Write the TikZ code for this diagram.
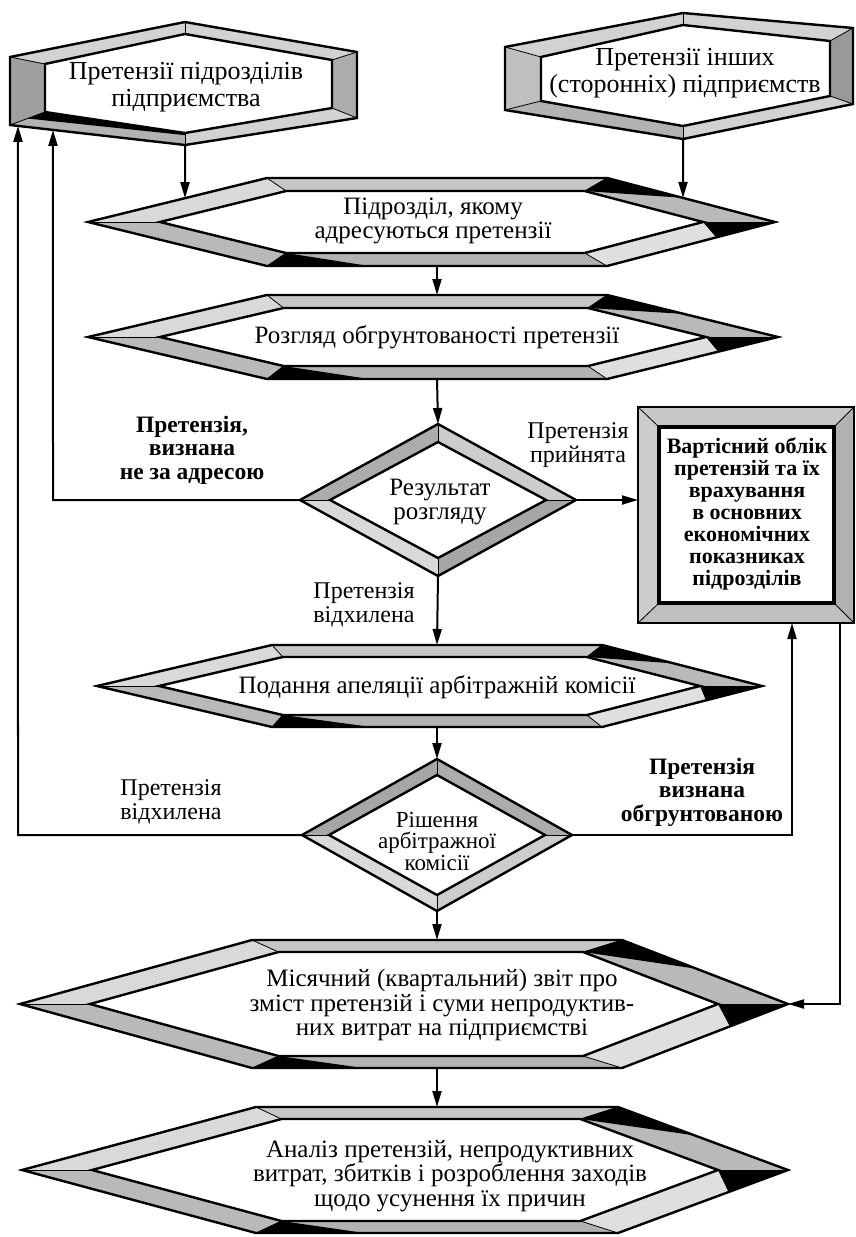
\documentclass[tikz,border=0pt]{standalone}
\usepackage{fontspec}
\setmainfont{Liberation Serif}
\usetikzlibrary{arrows.meta,calc}

\tikzset{
  conn/.style={line width=2pt, -{Triangle[length=16pt,width=9pt]}},
  outline/.style={line width=2.4pt, line join=miter, miter limit=30},
  corner/.style={line width=0.8pt},
  toptext/.style={align=center, inner sep=0pt, font=\fontsize{26}{26.5}\selectfont},
  hextext/.style={align=center, inner sep=0pt, font=\fontsize{25}{24.5}\selectfont},
  diatext/.style={align=center, inner sep=0pt, font=\fontsize{23}{21.5}\selectfont},
  boxtext/.style={align=center, inner sep=0pt, font=\fontsize{22}{22}\selectfont\bfseries},
  lbl/.style={align=center, inner sep=0pt, font=\fontsize{24}{23.5}\selectfont},
  lblb/.style={align=center, inner sep=0pt, font=\fontsize{23.5}{23.5}\selectfont\bfseries},
}

% Corner points of a bevelled hexagon:
% name, centre x, centre y, left reach, right reach, half height,
% half length of the flat edges, bevel width at the tips, bevel depth
\newcommand{\hexpts}[9]{%
  \pgfmathsetmacro{\hfL}{#4-#8-(#6-#9)*(#4-#7)/#6}%
  \pgfmathsetmacro{\hfR}{#5-#8-(#6-#9)*(#5-#7)/#6}%
  \coordinate (#1o1) at ({#2-#4},{#3});
  \coordinate (#1o2) at ({#2-#7},{#3-#6});
  \coordinate (#1o3) at ({#2+#7},{#3-#6});
  \coordinate (#1o4) at ({#2+#5},{#3});
  \coordinate (#1o5) at ({#2+#7},{#3+#6});
  \coordinate (#1o6) at ({#2-#7},{#3+#6});
  \coordinate (#1i1) at ({#2-#4+#8},{#3});
  \coordinate (#1i2) at ({#2-\hfL},{#3-#6+#9});
  \coordinate (#1i3) at ({#2+\hfR},{#3-#6+#9});
  \coordinate (#1i4) at ({#2+#5-#8},{#3});
  \coordinate (#1i5) at ({#2+\hfR},{#3+#6-#9});
  \coordinate (#1i6) at ({#2-\hfL},{#3+#6-#9});
  \coordinate (#1top) at ({#2},{#3-#6});
  \coordinate (#1bot) at ({#2},{#3+#6});
}

% Frame of a six-sided bevelled shape, one shade for each side
\newcommand{\bevelsix}[7]{%
  \foreach \pa/\pb/\sh in {1/2/#2,2/3/#3,3/4/#4,4/5/#5,5/6/#6,6/1/#7}{
    \fill[\sh] (#1o\pa) -- (#1o\pb) -- (#1i\pb) -- (#1i\pa) -- cycle;
  }
  \foreach \pa in {1,...,6}{\draw[corner] (#1o\pa) -- (#1i\pa);}
  \fill[white] (#1i1) -- (#1i2) -- (#1i3) -- (#1i4) -- (#1i5) -- (#1i6) -- cycle;
  \draw[outline] (#1o1) -- (#1o2) -- (#1o3) -- (#1o4) -- (#1o5) -- (#1o6) -- cycle;
  \draw[outline] (#1i1) -- (#1i2) -- (#1i3) -- (#1i4) -- (#1i5) -- (#1i6) -- cycle;
}

% dark wedge in a bevel band: shape, start corner, next corner, reach along the edge
\newcommand{\darkwedge}[4]{%
  \fill[black] (#1o#2) -- (#1i#2) -- ($(#1o#2)!#4!(#1o#3)$) -- cycle;
}

% the usual dark accents of a flat hexagon
\newcommand{\hexaccents}[1]{%
  \darkwedge{#1}{3}{4}{0.45}\darkwedge{#1}{4}{5}{0.35}\darkwedge{#1}{6}{5}{0.3}
}

% Corner points of a bevelled diamond: name, centre x, centre y, half width,
% half height, inner half width, inner half height
\newcommand{\diapts}[7]{%
  \coordinate (#1o1) at ({#2},{#3-#5});
  \coordinate (#1o2) at ({#2+#4},{#3});
  \coordinate (#1o3) at ({#2},{#3+#5});
  \coordinate (#1o4) at ({#2-#4},{#3});
  \coordinate (#1i1) at ({#2},{#3-#7});
  \coordinate (#1i2) at ({#2+#6},{#3});
  \coordinate (#1i3) at ({#2},{#3+#7});
  \coordinate (#1i4) at ({#2-#6},{#3});
}

\newcommand{\bevelfour}[5]{%
  \foreach \pa/\pb/\sh in {1/2/#2,2/3/#3,3/4/#4,4/1/#5}{
    \fill[\sh] (#1o\pa) -- (#1o\pb) -- (#1i\pb) -- (#1i\pa) -- cycle;
  }
  \foreach \pa in {1,...,4}{\draw[corner] (#1o\pa) -- (#1i\pa);}
  \fill[white] (#1i1) -- (#1i2) -- (#1i3) -- (#1i4) -- cycle;
  \draw[outline] (#1o1) -- (#1o2) -- (#1o3) -- (#1o4) -- cycle;
  \draw[outline] (#1i1) -- (#1i2) -- (#1i3) -- (#1i4) -- cycle;
}

\begin{document}
\begin{tikzpicture}[x=1pt,y=-1pt]
\useasboundingbox (0,0) rectangle (856,1237);

% ---------- claims from own departments
\coordinate (sao1) at (10,57);   \coordinate (sai1) at (45,64);
\coordinate (sao2) at (185,22);  \coordinate (sai2) at (185,34);
\coordinate (sao3) at (357,52);  \coordinate (sai3) at (332,60);
\coordinate (sao4) at (357,118); \coordinate (sai4) at (332,108);
\coordinate (sao5) at (185,145); \coordinate (sai5) at (185,133);
\coordinate (sao6) at (10,125);  \coordinate (sai6) at (45,112);
\bevelsix{sa}{gray!35}{gray!35}{gray!65}{gray!35}{gray!60}{gray!75}
\fill[black] (sai6) -- (sai5) -- ($(sai5)!0.18!(sao5)$) -- ($(sai6)!0.5!(sao6)$) -- cycle;
\node[toptext] (sa) at (186,87) {Претензії підрозділів\\підприємства};

% ---------- claims from other enterprises
\coordinate (sbo1) at (505,47);  \coordinate (sbi1) at (541,57);
\coordinate (sbo2) at (683,13);  \coordinate (sbi2) at (683,25);
\coordinate (sbo3) at (853,28);  \coordinate (sbi3) at (830,41);
\coordinate (sbo4) at (853,104); \coordinate (sbi4) at (830,96);
\coordinate (sbo5) at (683,139); \coordinate (sbi5) at (683,126);
\coordinate (sbo6) at (505,110); \coordinate (sbi6) at (541,101);
\bevelsix{sb}{gray!35}{gray!35}{gray!80}{gray!35}{gray!60}{gray!50}
\node[toptext] (sb) at (685,73) {Претензії інших\\(сторонніх) підприємств};

% ---------- addressee department
\hexpts{sc}{437}{222}{349}{338}{44}{170}{72}{13}
\bevelsix{sc}{gray!30}{gray!45}{gray!55}{gray!25}{gray!60}{gray!55}
\hexaccents{sc}
\node[hextext] (sc) at (433,221) {Підрозділ, якому\\адресуються претензії};

% ---------- examination
\hexpts{sd}{437}{337}{349}{341}{42}{170}{72}{13}
\bevelsix{sd}{gray!30}{gray!45}{gray!55}{gray!25}{gray!60}{gray!55}
\hexaccents{sd}
\node[hextext] (sd) at (437,337) {Розгляд обгрунтованості претензії};

% ---------- result of examination
\diapts{da}{438}{500}{138}{76}{108}{58}
\bevelfour{da}{gray!40}{gray!70}{gray!30}{gray!65}
\node[hextext] (da) at (440,502) {Результат\\розгляду};

% ---------- cost accounting box
\coordinate (accNW) at (638,407); \coordinate (accSE) at (854,623);
\coordinate (accNE) at (854,407); \coordinate (accSW) at (638,623);
\coordinate (acciNW) at (659,427); \coordinate (acciSE) at (834,603);
\coordinate (acciNE) at (834,427); \coordinate (acciSW) at (659,603);
\fill[gray!45] (accNW) -- (accNE) -- (acciNE) -- (acciNW) -- cycle;
\fill[gray!60] (accNE) -- (accSE) -- (acciSE) -- (acciNE) -- cycle;
\fill[gray!50] (accSE) -- (accSW) -- (acciSW) -- (acciSE) -- cycle;
\fill[gray!40] (accSW) -- (accNW) -- (acciNW) -- (acciSW) -- cycle;
\foreach \cn in {NW,NE,SE,SW}{\draw[corner] (acc\cn) -- (acci\cn);}
\fill[white] (acciNW) rectangle (acciSE);
\draw[outline] (accNW) rectangle (accSE);
\draw[line width=3.5pt] (acciNW) rectangle (acciSE);
\node[boxtext] (acc) at (747,514) {Вартісний облік\\претензій та їх\\врахування\\в основних\\економічних\\показниках\\підрозділів};

% ---------- appeal
\hexpts{se}{437}{686}{340}{325}{41}{165}{62}{12}
\bevelsix{se}{gray!30}{gray!45}{gray!55}{gray!25}{gray!60}{gray!55}
\hexaccents{se}
\node[hextext] (se) at (437,687) {Подання апеляції арбітражній комісії};

% ---------- arbitration decision
\diapts{db}{437}{835}{135}{76}{108}{60}
\bevelfour{db}{gray!65}{gray!40}{gray!30}{gray!70}
\node[diatext] (db) at (437,841) {Рішення\\арбітражної\\комісії};

% ---------- monthly report
\hexpts{sf}{437}{1004}{417}{351}{64}{185}{70}{12}
\bevelsix{sf}{gray!30}{gray!45}{gray!55}{gray!25}{gray!60}{gray!55}
\hexaccents{sf}
\node[hextext] (sf) at (442,1005) {Місячний (квартальний) звіт про\\зміст претензій і суми непродуктив-\\них витрат на підприємстві};

% ---------- analysis
\hexpts{sg}{437}{1170}{415}{351}{63}{181}{70}{12}
\bevelsix{sg}{gray!30}{gray!45}{gray!55}{gray!25}{gray!60}{gray!55}
\hexaccents{sg}
\node[hextext] (sg) at (450,1176) {Аналіз претензій, непродуктивних\\витрат, збитків і розроблення заходів\\щодо усунення їх причин};

% ---------- connectors
\coordinate (ja) at (sao5 |- sco2);
\draw[conn] (sao5) -- (intersection of sao5--ja and sco1--sco2);
\coordinate (jb) at (sbo5 |- sco3);
\draw[conn] (sbo5) -- (intersection of sbo5--jb and sco3--sco4);
\draw[conn] (scbot) -- (sdtop);
\draw[conn] (sdbot) -- (dao1);
\draw[conn] (dao2) -- (dao2 -| accNW);
\draw[conn] (dao3) -- (setop);
\draw[conn] (sebot) -- (dbo1);
\draw[conn] (dbo3) -- (sftop);
\draw[conn] (sfbot) -- (sgtop);

% returns to the departments
\coordinate (ka) at (53,500);  \coordinate (kat) at (53,0);
\draw[conn] (dao4) -- (ka) -- (intersection of ka--kat and sao5--sao6);
\coordinate (kb) at (18,835);  \coordinate (kbt) at (18,0);
\draw[conn] (dbo4) -- (kb) -- (intersection of kb--kbt and sao5--sao6);

% accepted claims
\coordinate (kc) at (792,835);
\draw[conn] (dbo2) -- (kc) -- (kc |- accSE);
\coordinate (kd) at (840,1004);
\draw[conn] (kd |- accSE) -- (kd) -- (sfo4);

% ---------- branch labels
\node[lblb] (la) at (192,450) {Претензія,\\визнана\\не за адресою};
\node[lbl]  (lb) at (578,445) {Претензія\\прийнята};
\node[lbl]  (lc) at (364,605) {Претензія\\відхилена};
\node[lbl]  (ld) at (171,802) {Претензія\\відхилена};
\node[lblb] (le) at (702,792) {Претензія\\визнана\\обгрунтованою};
\end{tikzpicture}
\end{document}
